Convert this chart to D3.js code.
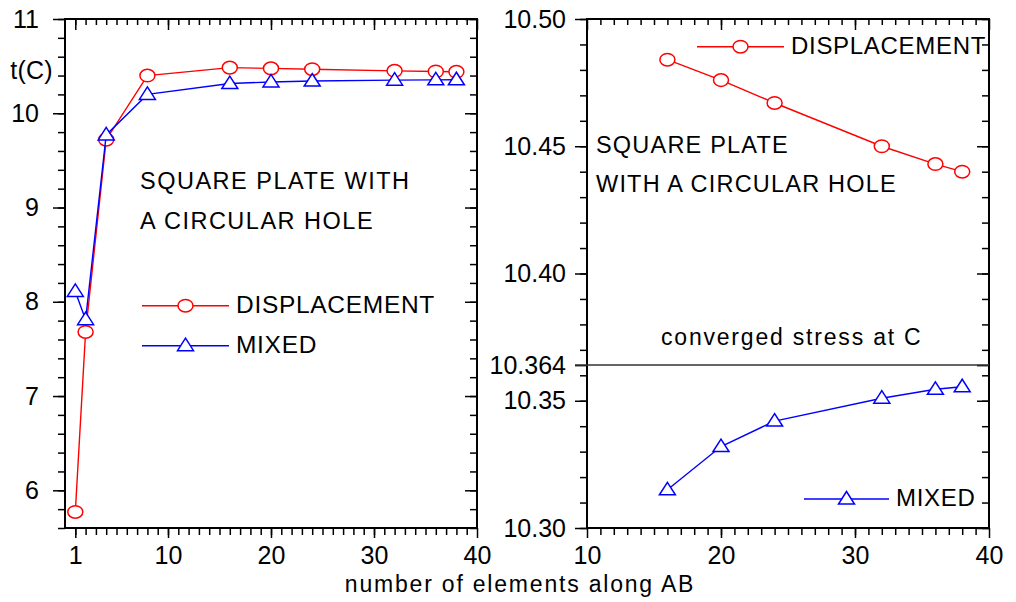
<!DOCTYPE html>
<html>
<head>
<meta charset="utf-8">
<script src="https://cdn.jsdelivr.net/npm/d3@7"></script>
<style>
  body { margin: 0; background: #fff; }
  svg { font-family: "Liberation Sans", Arial, sans-serif; }
  .tick text { font-size: 25px; fill: #000; }
  .tick line { stroke: #000; stroke-width: 1.5; }
</style>
</head>
<body>
<svg id="chart" width="1016" height="602"></svg>
<script>
// data
var nElements = [1, 2, 4, 8, 16, 20, 24, 32, 36, 38];
var displacement = [5.77, 7.68, 9.72, 10.40, 10.484, 10.476, 10.467, 10.450, 10.443, 10.440];
var mixed = [8.11, 7.81, 9.77, 10.20, 10.315, 10.332, 10.342, 10.351, 10.3545, 10.3555];
var converged = 10.364;

var leftXTicks = [1, 10, 20, 30, 40];
var leftYTicks = [6, 7, 8, 9, 10, 11];
var rightXTicks = [10, 20, 30, 40];
var rightYTicks = [10.30, 10.35, 10.364, 10.40, 10.45, 10.50];

var RED = "#ff0000", BLUE = "#0000ff";

var svg = d3.select("#chart");

var points = nElements.map(function(n, i) {
  return {n: n, disp: displacement[i], mixed: mixed[i]};
});

function range(a, b, step) {
  var out = [];
  for (var v = a; v <= b + 1e-9; v += step) out.push(+v.toFixed(4));
  return out;
}

function circleMark(g, x, y, color) {
  g.append("ellipse")
    .attr("cx", x).attr("cy", y)
    .attr("rx", 7.5).attr("ry", 6.3)
    .attr("fill", "#fff")
    .attr("stroke", color)
    .attr("stroke-width", 1.5);
}

function triMark(g, x, y, color) {
  g.append("path")
    .attr("d", "M" + x + "," + (y - 7.5) + "L" + (x + 8) + "," + (y + 5) + "L" + (x - 8) + "," + (y + 5) + "Z")
    .attr("fill", "#fff")
    .attr("stroke", color)
    .attr("stroke-width", 1.5);
}

function drawAxes(g, x, y, xMajor, xMinor, yMajor, yMinor, yFmt, yPad) {
  var x0 = x.range()[0], x1 = x.range()[1];
  var yb = y.range()[0], yt = y.range()[1];

  // minor ticks
  g.append("g").attr("transform", "translate(0," + yb + ")")
    .call(d3.axisBottom(x).tickValues(xMinor).tickSize(7).tickFormat(""));
  g.append("g").attr("transform", "translate(0," + yt + ")")
    .call(d3.axisTop(x).tickValues(xMinor).tickSize(-6).tickFormat(""));
  g.append("g").attr("transform", "translate(" + x0 + ",0)")
    .call(d3.axisLeft(y).tickValues(yMinor).tickSize(7).tickFormat(""));
  g.append("g").attr("transform", "translate(" + x1 + ",0)")
    .call(d3.axisRight(y).tickValues(yMinor).tickSize(-7).tickFormat(""));

  // major ticks + labels
  g.append("g").attr("transform", "translate(0," + yb + ")")
    .call(d3.axisBottom(x).tickValues(xMajor).tickSize(10).tickPadding(8).tickFormat(d3.format("d")));
  g.append("g").attr("transform", "translate(0," + yt + ")")
    .call(d3.axisTop(x).tickValues(xMajor).tickSize(-11).tickFormat(""));
  g.append("g").attr("transform", "translate(" + x0 + ",0)")
    .call(d3.axisLeft(y).tickValues(yMajor).tickSize(12).tickPadding(yPad).tickFormat(yFmt));
  g.append("g").attr("transform", "translate(" + x1 + ",0)")
    .call(d3.axisRight(y).tickValues(yMajor).tickSize(-12).tickFormat(""));

  g.selectAll(".domain").remove();

  g.append("rect")
    .attr("x", x0).attr("y", yt)
    .attr("width", x1 - x0).attr("height", yb - yt)
    .attr("fill", "none")
    .attr("stroke", "#000")
    .attr("stroke-width", 2);
}

function drawSeries(g, data, x, y, key, color, marker) {
  var line = d3.line()
    .x(function(d) { return x(d.n); })
    .y(function(d) { return y(d[key]); });
  g.append("path")
    .datum(data)
    .attr("d", line)
    .attr("fill", "none")
    .attr("stroke", color)
    .attr("stroke-width", 1.4);
  data.forEach(function(d) { marker(g, x(d.n), y(d[key]), color); });
}

function label(g, x, y, txt, size, spacing, anchor) {
  return g.append("text")
    .attr("x", x).attr("y", y)
    .attr("font-size", size)
    .attr("text-anchor", anchor || "start")
    .style("letter-spacing", spacing + "px")
    .text(txt);
}

function legendItem(g, xa, xb, y, color, marker, txt, size) {
  g.append("line")
    .attr("x1", xa).attr("x2", xb)
    .attr("y1", y).attr("y2", y)
    .attr("stroke", color)
    .attr("stroke-width", 1.4);
  marker(g, (xa + xb) / 2, y, color);
  label(g, xb + 7, y + 7, txt, size, 0.7);
}

// ---------- left panel ----------
var xL = d3.scaleLinear().domain([0, 40]).range([65, 477]);
var yL = d3.scaleLinear().domain([5.6, 11]).range([528, 19]);
var gL = svg.append("g");

drawAxes(gL, xL, yL, leftXTicks, range(1, 39, 1), leftYTicks, range(5.6, 11, 0.2), d3.format("d"), 14);
drawSeries(gL, points, xL, yL, "disp", RED, circleMark);
drawSeries(gL, points, xL, yL, "mixed", BLUE, triMark);

label(gL, 53, 79, "t(C)", 25, 0.3, "end");
label(gL, 140, 189, "SQUARE PLATE WITH", 23.5, 1.5);
label(gL, 140, 229, "A CIRCULAR HOLE", 23.5, 1.5);
legendItem(gL, 142, 229, 305.7, RED, circleMark, "DISPLACEMENT", 24.5);
legendItem(gL, 142, 229, 345.7, BLUE, triMark, "MIXED", 24.5);

// ---------- right panel ----------
var xR = d3.scaleLinear().domain([10, 40]).range([587, 989]);
var yR = d3.scaleLinear().domain([10.30, 10.50]).range([528, 19]);
var gR = svg.append("g");

drawAxes(gR, xR, yR, rightXTicks, range(11, 39, 1), rightYTicks, range(10.30, 10.50, 0.01),
  function(d) { return d === converged ? "10.364" : d3.format(".2f")(d); }, 9);

gR.append("line")
  .attr("x1", 575).attr("x2", xR(40))
  .attr("y1", yR(converged)).attr("y2", yR(converged))
  .attr("stroke", "#333")
  .attr("stroke-width", 1.5);

var rightPts = points.filter(function(d) { return d.n >= 10; });
drawSeries(gR, rightPts, xR, yR, "disp", RED, circleMark);
drawSeries(gR, rightPts, xR, yR, "mixed", BLUE, triMark);

legendItem(gR, 697, 784, 46.7, RED, circleMark, "DISPLACEMENT", 24);
legendItem(gR, 804, 889, 499, BLUE, triMark, "MIXED", 24);
label(gR, 596, 153, "SQUARE PLATE", 23.5, 1.2);
label(gR, 596, 192, "WITH A CIRCULAR HOLE", 23.5, 1.2);
label(gR, 661, 345, "converged stress at C", 23, 1.8);

// shared x label
label(svg, 520, 592, "number of elements along AB", 23, 1.8, "middle");
</script>
</body>
</html>
